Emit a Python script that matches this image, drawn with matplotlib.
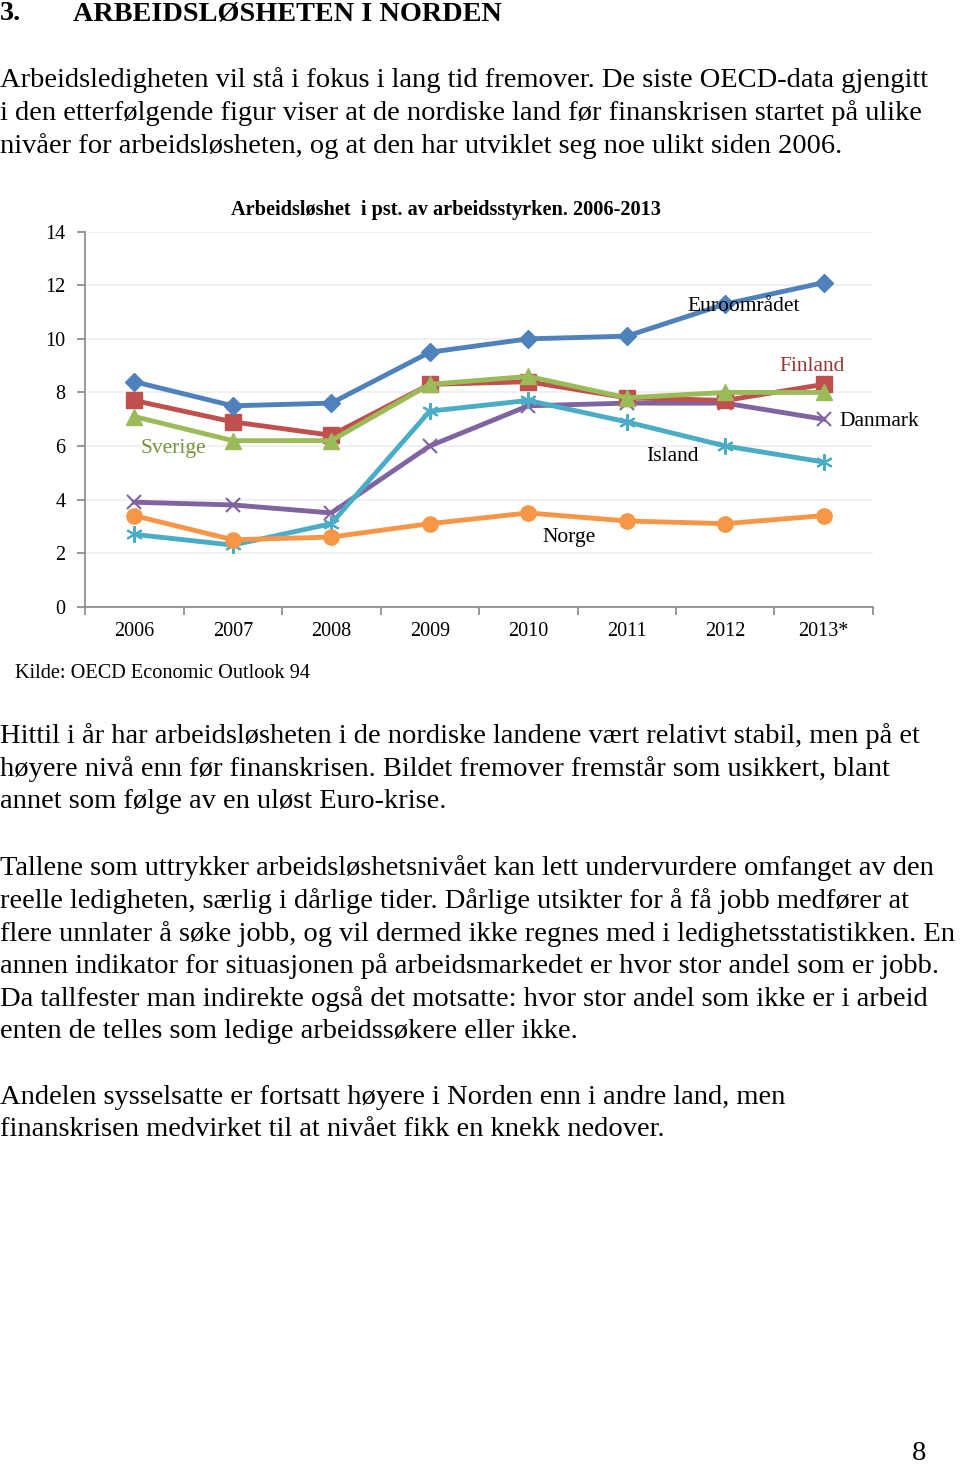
import matplotlib
matplotlib.use("Agg")
from matplotlib import pyplot as plt

years = ["2006", "2007", "2008", "2009", "2010", "2011", "2012", "2013*"]
euro = [8.4, 7.5, 7.6, 9.5, 10.0, 10.1, 11.3, 12.1]
finland = [7.7, 6.9, 6.4, 8.3, 8.4, 7.8, 7.7, 8.3]
sverige = [7.1, 6.2, 6.2, 8.3, 8.6, 7.8, 8.0, 8.0]
danmark = [3.9, 3.8, 3.5, 6.0, 7.5, 7.6, 7.6, 7.0]
island = [2.7, 2.3, 3.1, 7.3, 7.7, 6.9, 6.0, 5.4]
norge = [3.4, 2.5, 2.6, 3.1, 3.5, 3.2, 3.1, 3.4]

W, H = 960, 1465
SERIF = "Liberation Serif"

heading_no = "3."
heading = "ARBEIDSLØSHETEN I NORDEN"
para1 = [
    "Arbeidsledigheten vil stå i fokus i lang tid fremover. De siste OECD-data gjengitt",
    "i den etterfølgende figur viser at de nordiske land før finanskrisen startet på ulike",
    "nivåer for arbeidsløsheten, og at den har utviklet seg noe ulikt siden 2006.",
]
para2 = [
    "Hittil i år har arbeidsløsheten i de nordiske landene vært relativt stabil, men på et",
    "høyere nivå enn før finanskrisen. Bildet fremover fremstår som usikkert, blant",
    "annet som følge av en uløst Euro-krise.",
]
para3 = [
    "Tallene som uttrykker arbeidsløshetsnivået kan lett undervurdere omfanget av den",
    "reelle ledigheten, særlig i dårlige tider. Dårlige utsikter for å få jobb medfører at",
    "flere unnlater å søke jobb, og vil dermed ikke regnes med i ledighetsstatistikken. En",
    "annen indikator for situasjonen på arbeidsmarkedet er hvor stor andel som er jobb.",
    "Da tallfester man indirekte også det motsatte: hvor stor andel som ikke er i arbeid",
    "enten de telles som ledige arbeidssøkere eller ikke.",
]
para4 = [
    "Andelen sysselsatte er fortsatt høyere i Norden enn i andre land, men",
    "finanskrisen medvirket til at nivået fikk en knekk nedover.",
]

fig = plt.figure(figsize=(W / 100, H / 100), dpi=100)
fig.patch.set_facecolor("white")


def ptext(x, y, s, **kw):
    # place text by pixel position on the page
    kw.setdefault("family", SERIF)
    kw.setdefault("va", "center")
    fig.text(x / W, 1 - y / H, s, **kw)


ptext(0, 14, heading_no, fontsize=20.3, weight="bold")
ptext(73, 14, heading, fontsize=20.3, weight="bold")

body = 20.5
for lines, y0 in [(para1, 80), (para2, 736), (para3, 868), (para4, 1097)]:
    for i, line in enumerate(lines):
        ptext(0, y0 + i * 32.8, line, fontsize=body)

ptext(919, 1454, "8", fontsize=body, ha="center")

# chart
ax = fig.add_axes([85 / W, 1 - 606.7 / H, 788 / W, 375 / H])
x = list(range(len(years)))
lw = 3.5
ax.plot(x, euro, color="#4F81BD", lw=lw, marker="D", ms=9, zorder=5)
ax.plot(x, finland, color="#C0504D", lw=lw, marker="s", ms=11, zorder=4)
ax.plot(x, sverige, color="#9BBB59", lw=lw, marker="^", ms=11, zorder=4)
ax.plot(x, danmark, color="#8064A2", lw=lw, marker="x", ms=10, mew=1.5, zorder=3)
ax.plot(x, island, color="#4BACC6", lw=lw, marker=(6, 2, 0), ms=12, mew=1.5, zorder=3)
ax.plot(x, norge, color="#F79646", lw=lw, marker="o", ms=11, zorder=3)

ax.set_xlim(-0.5, len(years) - 0.5)
ax.set_ylim(0, 14)
ax.set_yticks(range(0, 15, 2))
ax.set_xticks(x)
ax.set_xticklabels(years, family=SERIF, fontsize=14.5)
ax.set_xticks([i - 0.5 for i in range(len(years) + 1)], minor=True)
ax.tick_params(axis="x", which="major", length=0, pad=11)
ax.tick_params(axis="x", which="minor", length=6, color="#888888", width=1.2)
ax.tick_params(axis="y", length=6, color="#888888", width=1.2, pad=8)
for lab in ax.get_yticklabels():
    lab.set_family(SERIF)
    lab.set_fontsize(14.5)
ax.grid(axis="y", color="#EEEEEE", lw=1.2)
ax.set_axisbelow(True)
for s in ["top", "right"]:
    ax.spines[s].set_visible(False)
for s in ["left", "bottom"]:
    ax.spines[s].set_color("#888888")
    ax.spines[s].set_linewidth(1.2)

lab_kw = dict(family=SERIF, fontsize=15.5, ha="center", va="center", zorder=6)
ax.text(0.40, 5.92, "Sverige", color="#77933C", **lab_kw)
ax.text(6.19, 11.19, "Euroområdet", color="black", **lab_kw)
ax.text(6.88, 8.95, "Finland", color="#953735", **lab_kw)
ax.text(7.56, 6.93, "Danmark", color="black", clip_on=False, **lab_kw)
ax.text(5.46, 5.59, "Island", color="black", **lab_kw)
ax.text(4.41, 2.60, "Norge", color="black", **lab_kw)

ptext(446, 210, "Arbeidsløshet  i pst. av arbeidsstyrken. 2006-2013",
      fontsize=14.6, weight="bold", ha="center")
ptext(15, 673, "Kilde: OECD Economic Outlook 94", fontsize=14.6)

fig.savefig("out.png", dpi=100)
